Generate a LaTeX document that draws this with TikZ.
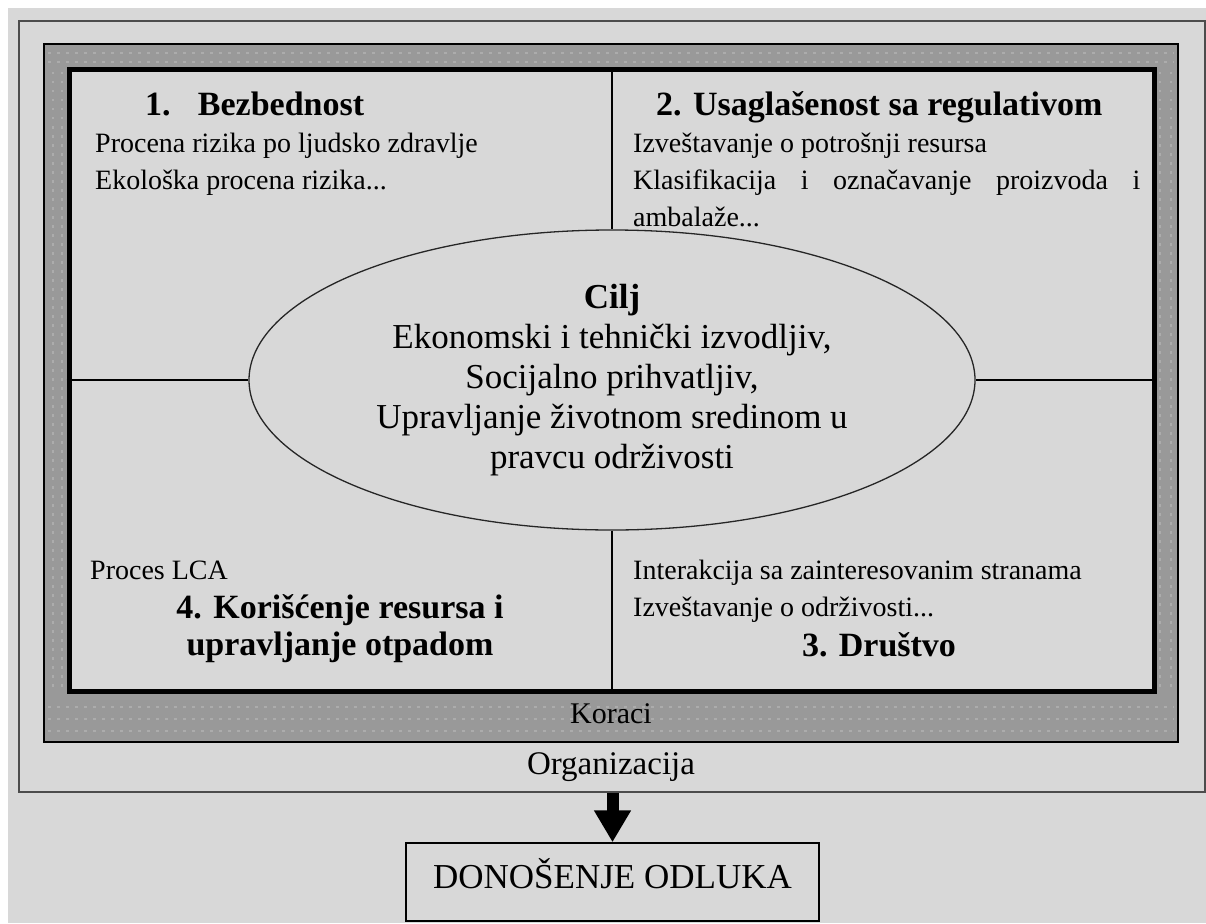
\documentclass[tikz,border=0pt]{standalone}
\usepackage{fontspec}
\setmainfont{Liberation Serif}
\usetikzlibrary{shapes.geometric,arrows.meta}
\definecolor{pozadina}{RGB}{216,216,216}
\definecolor{traka}{RGB}{153,153,153}
\definecolor{tackica}{RGB}{172,172,172}

\begin{document}
\begin{tikzpicture}[
  x=1pt, y=-1pt,
  okvir/.style={draw=black!70, line width=2pt, minimum width=1186pt, minimum height=771pt, inner sep=0pt},
  koraci/.style={draw=black, fill=traka, line width=2.5pt, minimum width=1134pt, minimum height=698pt, inner sep=0pt},
  polje/.style={draw=black, fill=pozadina, line width=5pt, minimum width=1085pt, minimum height=621pt, inner sep=0pt},
  cilj/.style={ellipse, draw=black!85, line width=1.3pt, fill=pozadina, minimum width=726pt, minimum height=300pt, inner sep=0pt, align=center, font=\fontsize{35}{40}\selectfont},
  podela/.style={draw=black, line width=1.5pt},
  naslov/.style={inner sep=0pt, font=\fontsize{34}{37}\selectfont\bfseries},
  tekst/.style={inner sep=0pt, align=left, font=\fontsize{28}{37}\selectfont},
  natpis/.style={inner sep=0pt, font=\fontsize{33}{36}\selectfont},
  odluka/.style={draw=black, line width=1.5pt, minimum width=413pt, minimum height=78pt, text height=24pt, text depth=12pt, font=\fontsize{35}{38}\selectfont},
  strelica/.style={line width=12pt, -{Triangle[width=35pt,length=32pt]}},
  tackice/.style={draw=tackica, line width=2.5pt, dash pattern=on 2.5pt off 6.5pt}
]
  \useasboundingbox (0,0) rectangle (1206,923);
  \fill[pozadina] (8,8) rectangle (1206,923);

  % Organizacija i koraci
  \node[okvir] (organizacija) at (611.5,406.5) {};
  \node[koraci] (traka) at (611,393) {};
  \foreach \y in {53,62} \draw[tackice] (48,\y) -- (1174,\y);
  \foreach \y in {707,719,731} \draw[tackice] (48,\y) -- (1174,\y);
  \foreach \x in {53,62,1160,1171} \draw[tackice] (\x,72) -- (\x,690);

  % Polje sa cetiri oblasti
  \node[polje] (polje) at (611.5,380.5) {};
  \node[cilj] (cilj) at (612,380) {\textbf{Cilj}\\Ekonomski i tehnički izvodljiv,\\Socijalno prihvatljiv,\\Upravljanje životnom sredinom u\\pravcu održivosti};

  \draw[podela] (polje.north -| cilj.north) -- (cilj.north);
  \draw[podela] (cilj.south) -- (polje.south -| cilj.south);
  \draw[podela] (polje.west |- cilj.west) -- (cilj.west);
  \draw[podela] (cilj.east) -- (polje.east |- cilj.east);

  % Gornje oblasti
  \node[naslov, anchor=base west] (bezbednost) at (145,115) {1.\hspace{0.8em}Bezbednost};
  \node[tekst, anchor=north west] (rizici) at (95,133) {Procena rizika po ljudsko zdravlje\\Ekološka procena rizika...};
  \node[naslov, anchor=base west] (regulativa) at (656,115) {2. Usaglašenost sa regulativom};
  \node[tekst, anchor=north west] (izvestaji) at (633,133) {Izveštavanje o potrošnji resursa\\\hbox to 507pt{Klasifikacija\hfill i\hfill označavanje\hfill proizvoda\hfill i}\\ambalaže...};

  % Donje oblasti
  \node[tekst, anchor=base west] (lca) at (90,579) {Proces LCA};
  \node[naslov, anchor=base] (resursi) at (340,618) {4. Korišćenje resursa i};
  \node[naslov, anchor=base] (otpad) at (340,655) {upravljanje otpadom};
  \node[tekst, anchor=north west] (interakcija) at (633,560) {Interakcija sa zainteresovanim stranama\\Izveštavanje o održivosti...};
  \node[naslov, anchor=base] (drustvo) at (879,656) {3. Društvo};

  % Natpisi okvira
  \node[natpis, font=\fontsize{30}{32}\selectfont, anchor=base] (korlab) at (611,723) {Koraci};
  \node[natpis, anchor=base] (orglab) at (611,774) {Organizacija};

  % Odluka
  \node[odluka] (odluka) at (612.5,882) {DONOŠENJE ODLUKA};
  \draw[strelica] (organizacija.south -| odluka.north) -- (odluka.north);
\end{tikzpicture}
\end{document}
